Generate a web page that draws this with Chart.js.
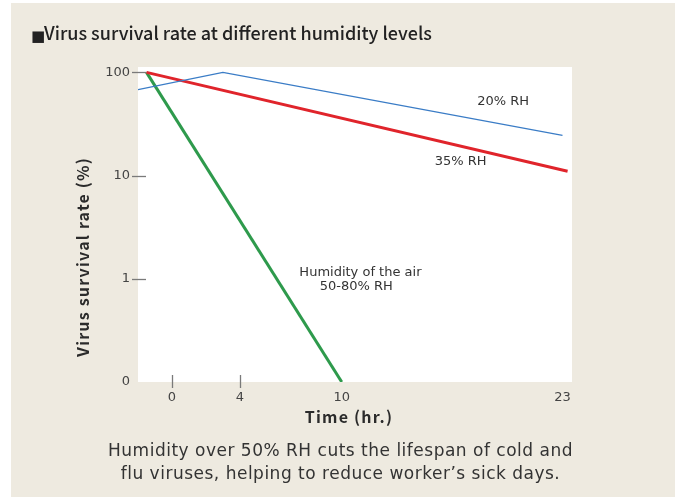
<!DOCTYPE html>
<html>
<head>
<meta charset="utf-8">
<script src="https://cdn.jsdelivr.net/npm/chart.js@4"></script>
<style>
  html, body { margin: 0; padding: 0; background: #fff; }
  canvas { display: block; }
</style>
</head>
<body>
<canvas id="myChart" width="675" height="497"></canvas>
<script>
const ctx = document.getElementById('myChart').getContext('2d');

// data (hours, survival %)
const hours20 = [-2, 3, 23];
const rate20 = [68, 100, 24.5];
const hours35 = [-1.5, 23.3];
const rate35 = [100, 11];
const hours50 = [-1.5, 10];
const rate50 = [100, 0.1];

// axis ticks
const xTicks = [0, 4, 10, 23];
const xTickMarks = [0, 4];
const yTicks = [0.1, 1, 10, 100];
const yTickLabels = ['0', '1', '10', '100'];
const yTickMarks = [1, 10, 100];

// texts
const titleMark = '■';
const chartTitle = 'Virus survival rate at different humidity levels';
const yTitle = 'Virus survival rate (%)';
const xTitle = 'Time (hr.)';
const caption = [
  'Humidity over 50% RH cuts the lifespan of cold and',
  'flu viruses, helping to reduce worker’s sick days.'
];
// line labels placed in data coordinates
const labelTexts = ['20% RH', '35% RH', 'Humidity of the air', '50-80% RH'];
const labelHours = [19.5, 17, 11.1, 10.85];
const labelRates = [52, 13.6, 1.15, 0.84];

const toPoints = (xs, ys) => xs.map((x, i) => ({ x: x, y: ys[i] }));

const decor = {
  id: 'decor',
  beforeDraw(chart) {
    const c = chart.ctx;
    const a = chart.chartArea;
    c.save();
    c.fillStyle = '#ffffff';
    c.fillRect(0, 0, chart.width, chart.height);
    c.fillStyle = '#eeeae0';
    c.fillRect(11, 3, chart.width - 11, chart.height - 3);
    c.fillStyle = '#ffffff';
    c.fillRect(a.left, a.top, a.right - a.left, a.bottom - a.top);
    c.restore();
  },
  beforeDatasetsDraw(chart) {
    const c = chart.ctx;
    const a = chart.chartArea;
    const xs = chart.scales.x, ys = chart.scales.y;
    c.save();
    c.strokeStyle = '#7a7a7a';
    c.lineWidth = 1.3;
    yTickMarks.forEach(v => {
      const py = Math.round(ys.getPixelForValue(v)) + 0.5;
      c.beginPath();
      c.moveTo(a.left - 6, py);
      c.lineTo(a.left + 8, py);
      c.stroke();
    });
    xTickMarks.forEach(v => {
      const px = Math.round(xs.getPixelForValue(v)) + 0.5;
      c.beginPath();
      c.moveTo(px, a.bottom - 7);
      c.lineTo(px, a.bottom + 6);
      c.stroke();
    });
    c.restore();
  },
  afterDraw(chart) {
    const c = chart.ctx;
    const xs = chart.scales.x, ys = chart.scales.y;
    c.save();
    // title
    c.fillStyle = '#222';
    c.textBaseline = 'alphabetic';
    c.textAlign = 'left';
    c.font = '15px "DejaVu Sans"';
    c.fillText(titleMark, 31, 41);
    c.font = '500 18px "Noto Sans CJK JP"';
    c.fillText(chartTitle, 44, 40);

    // axis titles
    c.fillStyle = '#2b2b2b';
    c.font = 'bold 16px "Noto Sans CJK JP"';
    c.letterSpacing = '1.2px';
    c.textAlign = 'center';
    c.textBaseline = 'middle';
    c.fillText(xTitle, 349, 417);
    c.save();
    c.translate(83, 257);
    c.rotate(-Math.PI / 2);
    c.fillText(yTitle, 0, 0);
    c.restore();
    c.letterSpacing = '0px';

    // line labels
    c.fillStyle = '#333';
    c.font = '13px "DejaVu Sans"';
    labelTexts.forEach((t, i) => {
      c.fillText(t, xs.getPixelForValue(labelHours[i]), ys.getPixelForValue(labelRates[i]));
    });

    // caption
    c.fillStyle = '#333';
    c.font = '17px "DejaVu Sans"';
    c.letterSpacing = '0.5px';
    c.fillText(caption[0], 340.5, 452);
    c.fillText(caption[1], 340.5, 475);
    c.restore();
  }
};

const chartConfig = {
  type: 'line',
  data: {
    datasets: [
      {
        label: '20% RH',
        data: toPoints(hours20, rate20),
        borderColor: '#3a7cc6',
        borderWidth: 1.2,
        pointRadius: 0,
        tension: 0
      },
      {
        label: '35% RH',
        data: toPoints(hours35, rate35),
        borderColor: '#e0242b',
        borderWidth: 3,
        pointRadius: 0,
        tension: 0
      },
      {
        label: '50-80% RH',
        data: toPoints(hours50, rate50),
        borderColor: '#2e9a4c',
        borderWidth: 3,
        pointRadius: 0,
        tension: 0
      }
    ]
  },
  options: {
    responsive: false,
    animation: false,
    devicePixelRatio: 1,
    layout: { padding: { top: 67, right: 103, bottom: 0, left: 0 } },
    plugins: {
      legend: { display: false },
      tooltip: { enabled: false }
    },
    scales: {
      x: {
        type: 'linear',
        min: -2,
        max: 23.56,
        afterFit: s => { s.height = 115; },
        afterBuildTicks: s => { s.ticks = xTicks.map(v => ({ value: v })); },
        grid: { display: false, drawTicks: false },
        border: { display: false },
        ticks: {
          autoSkip: false,
          maxRotation: 0,
          padding: 8,
          color: '#444',
          font: { family: 'DejaVu Sans', size: 13 },
          callback: v => String(v)
        }
      },
      y: {
        type: 'logarithmic',
        min: 0.1,
        max: 112.8,
        afterFit: s => { s.width = 138; },
        afterBuildTicks: s => { s.ticks = yTicks.map(v => ({ value: v })); },
        grid: { display: false, drawTicks: false },
        border: { display: false },
        ticks: {
          autoSkip: false,
          padding: 8,
          color: '#444',
          font: { family: 'DejaVu Sans', size: 13 },
          callback: v => yTickLabels[yTicks.indexOf(v)]
        }
      }
    }
  },
  plugins: [decor]
};

const myChart = new Chart(ctx, chartConfig);
</script>
</body>
</html>
